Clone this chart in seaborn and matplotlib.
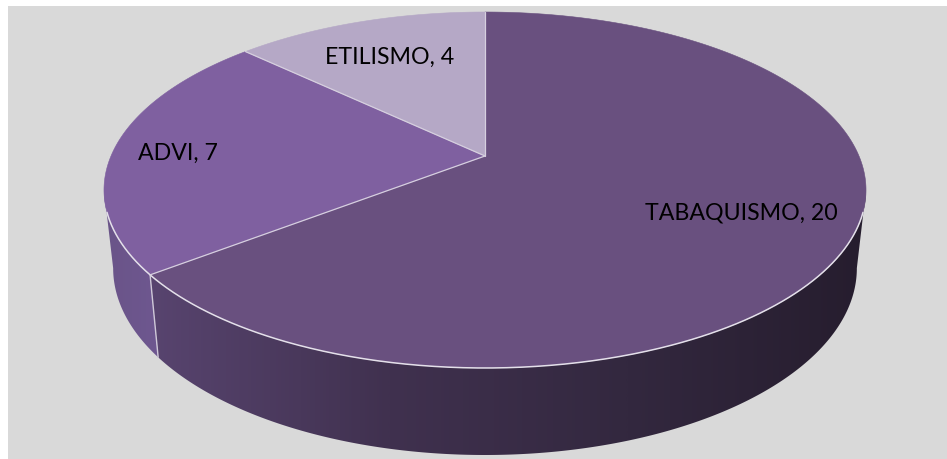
import numpy as np
import matplotlib
matplotlib.use("Agg")
import matplotlib.pyplot as plt
from matplotlib.colors import ListedColormap
from matplotlib.patches import Polygon, Rectangle
import seaborn as sns

categories = ["TABAQUISMO", "ADVI", "ETILISMO"]
values = [20, 7, 4]
top_colors = ["#69507F", "#7F60A0", "#B5A8C6"]
wall_ramps = [["#58446F", "#40314F", "#33283F", "#261D2E"], ["#6A5488", "#6E5790"]]

sns.set_style("white")
plt.rcParams["font.family"] = ["Lato", "DejaVu Sans"]

W, H = 947, 459
fig = plt.figure(figsize=(W / 100, H / 100), dpi=100, facecolor="white")
ax = fig.add_axes([0, 0, 1, 1])
ax.axis("off")
ax.add_patch(Rectangle((8, 6), W - 8, H - 6, fc="#D9D9D9", ec="none", zorder=0))

CX, CY, RX, RY, K = 485, 156, 374, 171.5, 0.191
BCX, BCY, BRX, BRY = 485, 232.5, 365, 180


def project(deg, cx, cy, rx, ry):
    t = np.radians(deg)
    u, v = np.sin(t), np.cos(t)
    s = 1 / (1 + K * v)
    return cx + rx * u * s, cy - ry * v * s


def top(deg):
    return project(deg, CX, CY, RX, RY)


def bottom(deg):
    return project(deg, BCX, BCY, BRX, BRY)


edges = np.concatenate([[0], np.cumsum(values)]) / np.sum(values) * 360

# side walls: horizontal gradient clipped to the visible wall outline
for i, ramp in enumerate(wall_ramps):
    a, b = max(edges[i], 101), min(edges[i + 1], 259)
    th = np.linspace(a, b, 400)
    tx, ty = top(th)
    bx, by = bottom(th[::-1])
    outline = np.column_stack([np.r_[tx, bx], np.r_[ty, by]])
    poly = Polygon(outline, closed=True, fc="none", ec="none", transform=ax.transData)
    ax.add_patch(poly)
    lo, hi = (150, 866) if i == 0 else (104, 160)
    img = ax.imshow(np.linspace(0, 1, 512)[None, :], cmap=ListedColormap(sns.blend_palette(ramp, 256)),
                    extent=(lo, hi, H, 0), aspect="auto", zorder=2, interpolation="bilinear")
    img.set_clip_path(poly)

# wall seam between the two visible slices
sx0, sy0 = top(edges[1])
sx1, sy1 = bottom(edges[1])
ax.plot([sx0, sx1], [sy0, sy1], color="#CFC8D8", lw=1.0, zorder=3)

# top face
for i, c in enumerate(top_colors):
    th = np.linspace(edges[i], edges[i + 1], 400)
    x, y = top(th)
    ax.fill(np.r_[CX, x], np.r_[CY, y], color=c, lw=0.4, zorder=4)

# front rim and radial lines
rx_, ry_ = top(np.linspace(108, 252, 400))
ax.plot(rx_, ry_, color="#E4E0EA", lw=1.1, zorder=5)
for e in edges[:-1]:
    x, y = top(e)
    ax.plot([CX, x], [CY, y], color="#D6CFDF", lw=0.9, zorder=5)

# labels
label_xy = [(741, 213), (178, 153), (390, 57)]
for cat, val, (lx, ly) in zip(categories, values, label_xy):
    ax.text(lx, ly, f"{cat}, {val}", ha="center", va="center", fontsize=16.7, color="black", zorder=6)

ax.set_xlim(0, W)
ax.set_ylim(H, 0)
fig.savefig("out.png", dpi=100, facecolor="white")
